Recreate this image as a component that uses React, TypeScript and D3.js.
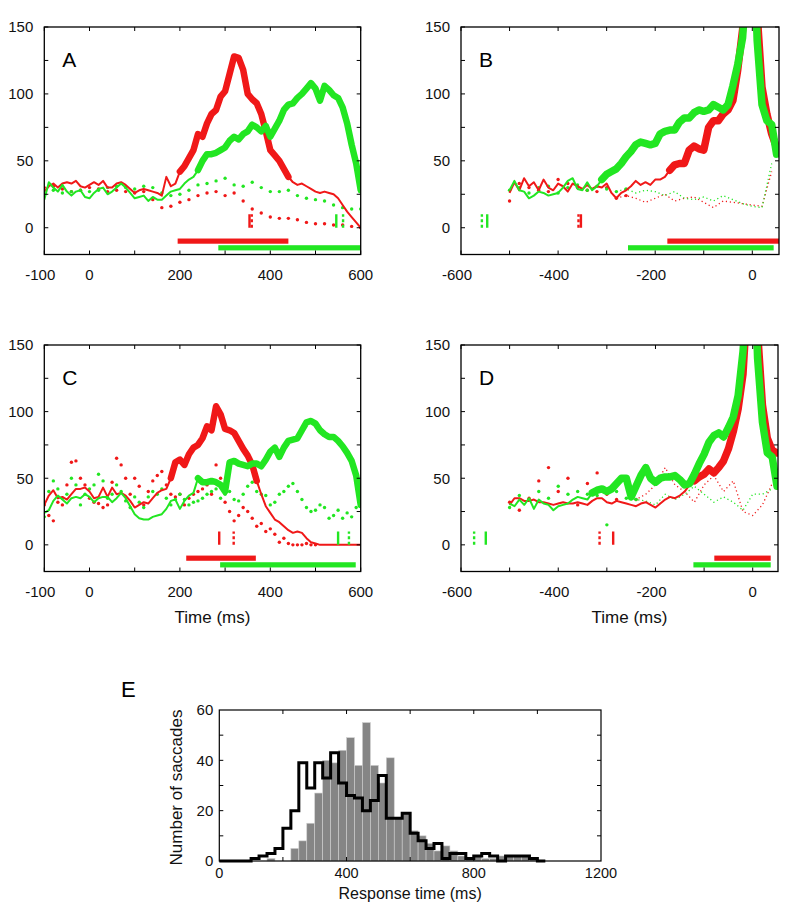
import React from "react";
import * as d3 from "d3";

const RED = "#f01818";
const GREEN = "#22e622";
const FONT = "'Liberation Sans', Arial, Helvetica, sans-serif";

// ---------------- Panel A (time from stimulus, -100..600 ms) ----------------
const A_START = -100;
const A_STEP = 10;
const A_DOT_STEP = 20;
const aRed = [27,31,33,30,33,34,33,35,31,30, 32,34,32,35,30,30,33,34,32,29, 26,28,29,28,27,26,24,38,31,33, 42,46,52,58,70,68,78,85,88,98, 102,115,128,127,118,100,96,93,85,72, 58,54,50,44,38,34,32,33,31,29, 27,26,27,26,25,22,17,12,8,4, 0];
const aGreen = [21,34,30,27,32,27,24,27,28,23, 22,26,29,30,25,27,30,33,30,26, 22,23,24,20,23,21,21,24,27,28, 29,33,36,38,43,50,55,55,56,58, 60,65,68,66,70,72,77,75,72,76, 68,74,80,88,92,93,97,100,104,108, 104,95,106,103,99,97,90,78,62,48, 28];
const aRedDot = [30,31,29,27,28,30,29,27,28,27, 26,27,21,15,16,19,21,24,26,27, 24,26,20,14,11,8,7,7,6,4, 3,3,2,2,1,0];
const aGreenDot = [25,28,26,27,28,27,28,30,31,30, 29,31,30,26,24,25,28,32,33,35, 37,32,31,34,30,27,27,28,24,22, 21,20,17,15,14,14];

// ---------------- Panel B (time from saccade, -500..50 ms) ----------------
const B_START = -500;
const B_STEP = 10;
const B_DOT_STEP = 20;
const bRed = [26,34,28,37,31,34,28,36,30,28, 33,31,27,33,31,29,32,29,31,30, 33,26,22,26,28,31,35,32,34,32, 36,36,38,43,47,48,48,58,61,59, 58,75,80,80,85,88,95,118,148,195, 250,160,105,85,70,60];
const bGreen = [28,35,28,27,22,24,27,26,24,25, 26,30,35,37,29,28,34,28,31,36, 40,42,44,48,53,57,62,64,63,62, 63,70,72,73,73,79,82,82,86,88, 87,88,92,90,88,92,106,122,142,195, 250,140,92,80,77,55];
const bRedDot = [20,33,30,28,27,36,33,30,28,27, 30,22,24,22,19,22,25,20,22,23, 19,15,20,19,18,17,16,42];
const bGreenDot = [28,30,26,30,31,26,30,32,28,31, 29,27,29,26,28,27,24,27,22,21, 23,20,24,21,18,16,15,48];

// ---------------- Panel C (time from stimulus) ----------------
const C_START = -100;
const C_STEP = 10;
const cRed = [30,37,41,35,36,34,38,42,42,43, 40,35,36,43,36,43,38,39,37,33, 28,30,32,31,35,39,41,42,50,62, 64,60,68,73,75,80,89,86,104,98, 87,86,84,78,72,67,60,48,38,29, 24,19,17,14,11,9,10,9,5,2, 1,0,0,0,0,0,0,0,0,0, 0];
const cGreen = [24,26,33,37,34,31,35,36,35,38, 36,32,35,36,36,32,35,39,35,29, 23,20,19,19,21,22,23,27,33,34, 27,33,37,39,50,47,47,48,47,45, 40,62,63,61,60,59,61,61,59,64, 70,73,66,73,78,79,80,86,92,93, 91,86,83,81,81,78,74,69,63,52, 30];
const cRedDot = [30,22,18,32,30,45,62,63,50,45, 35,32,31,28,30,47,65,60,50,38, 50,44,30,40,48,52,55,45,38,36, 38,30,35,38,40,42,45,38,60,50, 32,25,18,22,28,25,20,14,16,10, 12,8,2,5,1,0,0,0,1,0, 0];
const cGreenDot = [21,40,48,42,35,38,50,45,30,38, 42,45,53,48,35,38,45,40,33,28, 36,32,28,36,40,38,42,35,30,34, 38,34,30,32,33,35,38,40,42,35, 38,40,34,33,38,44,47,40,38,37, 30,32,38,40,44,46,40,34,28,25, 26,30,28,20,22,26,20,24,21,28, 30];

// ---------------- Panel D (time from saccade) ----------------
const D_START = -500;
const D_STEP = 10;
const D_DOT_STEP = 20;
const dRed = [30,35,35,33,33,34,32,32,31,30, 31,32,31,31,32,31,30,33,35,35, 32,31,33,32,31,30,29,31,32,30, 28,31,34,36,35,37,40,45,48,51, 53,57,54,58,63,72,85,102,128,190, 250,160,105,80,71,69];
const dGreen = [31,29,34,30,35,27,34,31,30,26, 29,30,31,34,36,35,34,39,41,42, 40,42,46,50,50,36,44,52,58,50, 47,50,51,51,52,49,45,46,53,61, 68,77,82,84,81,88,96,112,145,200, 250,140,92,69,66,44];
const dRedDot = [32,26,35,48,58,40,50,30,46,54, 38,34,48,34,38,45,58,45,40,32, 45,52,40,48,25,22,30,46];
const dGreenDot = [28,37,34,40,35,44,38,40,38,37, 15,40,35,34,33,30,38,34,38,44, 38,32,36,32,26,38,38,42];

// ---------------- Panel E (histogram, 25 ms bins) ----------------
const E_BIN = 25;
const eGray = [0,0,0,0,0,0,1,0,0,5, 8,15,27,40,39,44,49,38,55,38, 31,41,17,19,12,10,7,4,6,4, 2,1,2,1,1,2,2,2,2,1, 0];
const eBlack = [0,0,0,0,1,2,3,5,13,20, 39,29,39,33,43,31,26,25,20,24, 34,17,17,19,11,8,5,7,1,3, 3,1,2,3,2,0,2,2,2,1, 0];

type Pt = [number, number];
const toPts = (start: number, step: number, vals: number[]): Pt[] =>
  vals.map((v, i) => [start + i * step, v] as Pt);

type Solid = { pts: Pt[]; color: string; thick: [number, number] };
type DotSet = { pts: Pt[]; color: string; fineFrom?: number };
type Mark = { t: number; color: string; dotted: boolean };
type Bar = { from: number; to: number; level: number; color: string };

interface PanelProps {
  id: string;
  letter: string;
  t0: number;
  t1: number;
  x0: number;
  x1: number;
  top: number;
  bottom: number;
  xLabels: number[];
  xMinor: number[];
  xTitle?: string;
  thickW: number;
  solids: Solid[];
  dots: DotSet[];
  marks: Mark[];
  bars: Bar[];
}

function Panel(p: PanelProps) {
  const x = d3.scaleLinear().domain([p.t0, p.t1]).range([p.x0, p.x1]);
  const y = d3.scaleLinear().domain([-20, 150]).range([p.bottom, p.top]);
  const line = d3.line<Pt>().x((d) => x(d[0])).y((d) => y(d[1]));
  const yTicks = [0, 25, 50, 75, 100, 125, 150];
  const yLabels = [0, 50, 100, 150];
  const tk = 4;
  return (
    <g>
      <defs>
        <clipPath id={p.id}>
          <rect x={p.x0} y={p.top} width={p.x1 - p.x0} height={p.bottom - p.top} />
        </clipPath>
      </defs>
      <g clipPath={`url(#${p.id})`}>
        {p.dots.map((ds, k) => {
          const coarse = ds.fineFrom === undefined ? ds.pts : ds.pts.filter((d) => d[0] <= ds.fineFrom!);
          const fine = ds.fineFrom === undefined ? [] : ds.pts.filter((d) => d[0] >= ds.fineFrom! - 20);
          return (
            <g key={"d" + k}>
              {coarse.map((d, i) => (
                <circle key={i} cx={x(d[0])} cy={y(d[1])} r={1.7} fill={ds.color} />
              ))}
              {fine.length > 1 && (
                <path d={line(fine) || ""} fill="none" stroke={ds.color} strokeWidth={1.3}
                  strokeDasharray="1.2 2.8" />
              )}
            </g>
          );
        })}
        {p.solids.map((s, k) => (
          <g key={"s" + k}>
            <path d={line(s.pts) || ""} fill="none" stroke={s.color} strokeWidth={2}
              strokeLinejoin="round" />
            <path d={line(s.pts.filter((d) => d[0] >= s.thick[0] && d[0] <= s.thick[1])) || ""}
              fill="none" stroke={s.color} strokeWidth={p.thickW} strokeLinejoin="round" strokeLinecap="round" />
          </g>
        ))}
        {p.marks.map((m, k) => (
          <line key={"m" + k} x1={x(m.t)} x2={x(m.t)} y1={y(0)} y2={y(10)} stroke={m.color}
            strokeWidth={2.4} strokeDasharray={m.dotted ? "3 2.5" : undefined} />
        ))}
        {p.bars.map((b, k) => (
          <rect key={"b" + k} x={x(b.from)} width={x(b.to) - x(b.from)} y={y(b.level) - 2.6}
            height={5.2} fill={b.color} />
        ))}
      </g>
      <rect x={p.x0} y={p.top} width={p.x1 - p.x0} height={p.bottom - p.top} fill="none"
        stroke="#000" strokeWidth={1.3} />
      {yTicks.map((v) => (
        <g key={"yt" + v}>
          <line x1={p.x0} x2={p.x0 + tk} y1={y(v)} y2={y(v)} stroke="#000" strokeWidth={1} />
          <line x1={p.x1} x2={p.x1 - tk} y1={y(v)} y2={y(v)} stroke="#000" strokeWidth={1} />
        </g>
      ))}
      {p.xMinor.map((v) => (
        <g key={"xt" + v}>
          <line x1={x(v)} x2={x(v)} y1={p.top} y2={p.top + tk} stroke="#000" strokeWidth={1} />
          <line x1={x(v)} x2={x(v)} y1={p.bottom} y2={p.bottom - tk} stroke="#000" strokeWidth={1} />
        </g>
      ))}
      {yLabels.map((v) => (
        <text key={"yl" + v} x={p.x0 - 11} y={y(v)} dy="0.36em" textAnchor="end" fontSize={15}
          fontFamily={FONT} fill="#111">{v}</text>
      ))}
      {p.xLabels.map((v) => (
        <text key={"xl" + v} x={x(v) - (v < 0 ? 4 : 0)} y={p.bottom + 25} textAnchor="middle" fontSize={15}
          fontFamily={FONT} fill="#111">{v}</text>
      ))}
      <text x={p.x0 + 18} y={p.top + 40} fontSize={21} fontFamily={FONT} fill="#000">{p.letter}</text>
      {p.xTitle && (
        <text x={(p.x0 + p.x1) / 2 + 10} y={p.bottom + 51} textAnchor="middle" fontSize={17}
          fontFamily={FONT} fill="#111">{p.xTitle}</text>
      )}
    </g>
  );
}

function PanelE() {
  const x0 = 219.3, x1 = 601, top = 710, bottom = 861;
  const x = d3.scaleLinear().domain([0, 1200]).range([x0, x1]);
  const y = d3.scaleLinear().domain([0, 60]).range([bottom, top]);
  const blackPts: Pt[] = eBlack.map((v, i) => [i * E_BIN, v] as Pt);
  blackPts.push([eBlack.length * E_BIN, eBlack[eBlack.length - 1]]);
  const step = d3.line<Pt>().x((d) => x(d[0])).y((d) => y(d[1])).curve(d3.curveStepAfter);
  const tk = 4;
  return (
    <g>
      {eGray.map((v, i) =>
        v > 0 ? (
          <rect key={i} x={x(i * E_BIN)} width={x((i + 1) * E_BIN) - x(i * E_BIN)} y={y(v)}
            height={y(0) - y(v)} fill="#858585" stroke="#cfcfcf" strokeWidth={0.6} />
        ) : null
      )}
      <path d={step(blackPts) || ""} fill="none" stroke="#000" strokeWidth={3} strokeLinejoin="miter" />
      <rect x={x0} y={top} width={x1 - x0} height={bottom - top} fill="none" stroke="#000" strokeWidth={1.2} />
      {[10, 20, 30, 40, 50].map((v) => (
        <g key={"ey" + v}>
          <line x1={x0} x2={x0 + tk} y1={y(v)} y2={y(v)} stroke="#000" />
          <line x1={x1} x2={x1 - tk} y1={y(v)} y2={y(v)} stroke="#000" />
        </g>
      ))}
      {[200, 400, 600, 800, 1000].map((v) => (
        <g key={"ex" + v}>
          <line x1={x(v)} x2={x(v)} y1={top} y2={top + tk} stroke="#000" />
          <line x1={x(v)} x2={x(v)} y1={bottom} y2={bottom - tk} stroke="#000" />
        </g>
      ))}
      {[0, 20, 40, 60].map((v) => (
        <text key={"eyl" + v} x={x0 - 6} y={y(v)} dy="0.36em" textAnchor="end" fontSize={15}
          fontFamily={FONT} fill="#111">{v}</text>
      ))}
      {[0, 400, 800, 1200].map((v) => (
        <text key={"exl" + v} x={x(v)} y={bottom + 17} textAnchor="middle" fontSize={14.5}
          fontFamily={FONT} fill="#111">{v}</text>
      ))}
      <text x={(x0 + x1) / 2} y={899} textAnchor="middle" fontSize={16} fontFamily={FONT} fill="#111">
        Response time (ms)
      </text>
      <text transform={`translate(182,${(top + bottom) / 2 + 2}) rotate(-90)`} textAnchor="middle"
        fontSize={17} fontFamily={FONT} fill="#111">Number of saccades</text>
      <text x={121} y={697} fontSize={22} fontFamily={FONT} fill="#000">E</text>
    </g>
  );
}

export default function App() {
  const stimMinor = [-100, 0, 100, 200, 300, 400, 500, 600];
  const sacMinor = [-600, -500, -400, -300, -200, -100, 0];
  return (
    <svg width={800} height={923} style={{ position: "absolute", left: 0, top: 0, background: "#fff" }}>
      <rect width={800} height={923} fill="#fff" />
      <Panel id="clipA" letter="A" t0={-100} t1={600} x0={44.3} x1={360.7} top={27} bottom={254.5}
        xLabels={[-100, 0, 200, 400, 600]} xMinor={stimMinor} thickW={6.5}
        dots={[
          { pts: toPts(A_START, A_DOT_STEP, aRedDot), color: RED },
          { pts: toPts(A_START, A_DOT_STEP, aGreenDot), color: GREEN },
        ]}
        solids={[
          { pts: toPts(A_START, A_STEP, aRed), color: RED, thick: [195, 440] },
          { pts: toPts(A_START, A_STEP, aGreen), color: GREEN, thick: [235, 600] },
        ]}
        marks={[
          { t: 354, color: RED, dotted: false }, { t: 359, color: RED, dotted: true },
          { t: 546, color: GREEN, dotted: false }, { t: 561, color: GREEN, dotted: true },
        ]}
        bars={[
          { from: 195, to: 440, level: -10, color: RED },
          { from: 285, to: 600, level: -15, color: GREEN },
        ]}
      />
      <Panel id="clipB" letter="B" t0={-600} t1={55} x0={461} x1={779} top={27} bottom={254.5}
        xLabels={[-600, -400, -200, 0]} xMinor={sacMinor} thickW={7.5}
        dots={[
          { pts: toPts(B_START, B_DOT_STEP, bRedDot), color: RED, fineFrom: -260 },
          { pts: toPts(B_START, B_DOT_STEP, bGreenDot), color: GREEN, fineFrom: -260 },
        ]}
        solids={[
          { pts: toPts(B_START, B_STEP, bRed), color: RED, thick: [-170, 60] },
          { pts: toPts(B_START, B_STEP, bGreen), color: GREEN, thick: [-310, 60] },
        ]}
        marks={[
          { t: -557, color: GREEN, dotted: true }, { t: -546, color: GREEN, dotted: false },
          { t: -358, color: RED, dotted: true }, { t: -353, color: RED, dotted: false },
        ]}
        bars={[
          { from: -175, to: 55, level: -10, color: RED },
          { from: -256, to: 44, level: -15, color: GREEN },
        ]}
      />
      <Panel id="clipC" letter="C" t0={-100} t1={600} x0={44.3} x1={360.7} top={345} bottom={571.5}
        xLabels={[-100, 0, 200, 400, 600]} xMinor={stimMinor} xTitle="Time (ms)" thickW={6.5}
        dots={[
          { pts: toPts(C_START, C_STEP, cRedDot), color: RED },
          { pts: toPts(C_START, C_STEP, cGreenDot), color: GREEN },
        ]}
        solids={[
          { pts: toPts(C_START, C_STEP, cRed), color: RED, thick: [175, 370] },
          { pts: toPts(C_START, C_STEP, cGreen), color: GREEN, thick: [235, 600] },
        ]}
        marks={[
          { t: 287, color: RED, dotted: false }, { t: 319, color: RED, dotted: true },
          { t: 550, color: GREEN, dotted: false }, { t: 574, color: GREEN, dotted: true },
        ]}
        bars={[
          { from: 214, to: 368, level: -10, color: RED },
          { from: 289, to: 589, level: -15, color: GREEN },
        ]}
      />
      <Panel id="clipD" letter="D" t0={-600} t1={52} x0={461} x1={778} top={345} bottom={571.5}
        xLabels={[-600, -400, -200, 0]} xMinor={sacMinor} xTitle="Time (ms)" thickW={7.5}
        dots={[
          { pts: toPts(D_START, D_DOT_STEP, dRedDot), color: RED, fineFrom: -240 },
          { pts: toPts(D_START, D_DOT_STEP, dGreenDot), color: GREEN, fineFrom: -240 },
        ]}
        solids={[
          { pts: toPts(D_START, D_STEP, dRed), color: RED, thick: [-125, 60] },
          { pts: toPts(D_START, D_STEP, dGreen), color: GREEN, thick: [-335, 60] },
        ]}
        marks={[
          { t: -573, color: GREEN, dotted: true }, { t: -549, color: GREEN, dotted: false },
          { t: -315, color: RED, dotted: true }, { t: -287, color: RED, dotted: false },
        ]}
        bars={[
          { from: -79, to: 37, level: -10, color: RED },
          { from: -122, to: 37, level: -15, color: GREEN },
        ]}
      />
      <PanelE />
    </svg>
  );
}
